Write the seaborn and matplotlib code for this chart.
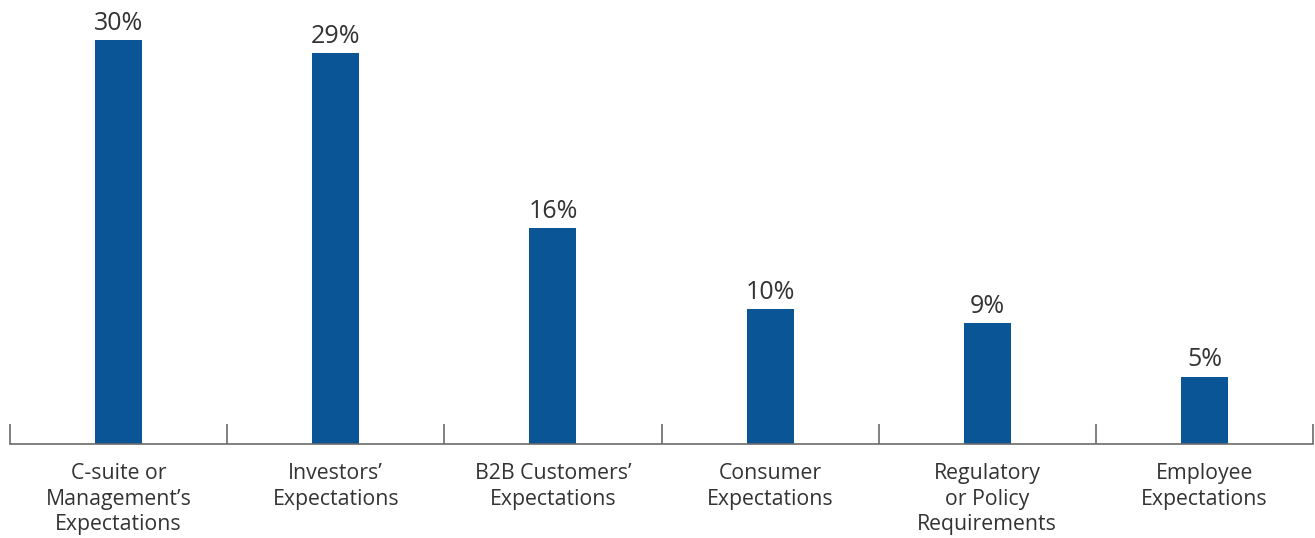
import matplotlib
matplotlib.use("Agg")
import matplotlib.pyplot as plt
import seaborn as sns
import pandas as pd

categories = [
    "C-suite or\nManagement's\nExpectations",
    "Investors'\nExpectations",
    "B2B Customers'\nExpectations",
    "Consumer\nExpectations",
    "Regulatory\nor Policy\nRequirements",
    "Employee\nExpectations",
]
categories = [c.replace("'", "\u2019") for c in categories]
values = [30, 29, 16, 10, 9, 5]

df = pd.DataFrame({"driver": categories, "share": values})

sns.set_theme(style="white")
plt.rcParams["font.family"] = ["Open Sans", "DejaVu Sans"]

fig = plt.figure(figsize=(13.15, 5.38), dpi=100)
ax = fig.add_axes([10 / 1315, 94 / 538, 1303 / 1315, 444 / 538])

sns.barplot(data=df, x="driver", y="share", color="#0a5596", width=0.216,
            saturation=1, linewidth=0, ax=ax)

for c in ax.containers:
    ax.bar_label(c, labels=[f"{v}%" for v in values], padding=3,
                 fontsize=18, color="#333333")

ax.set_ylim(0, 32.96)
ax.set_xlim(-0.5, len(values) - 0.5)
ax.set_xlabel("")
ax.set_ylabel("")
ax.set_yticks([])
for s in ["top", "right", "left"]:
    ax.spines[s].set_visible(False)
ax.spines["bottom"].set_color("#6b6b6b")
ax.spines["bottom"].set_linewidth(1.2)

ax.set_xticks(range(len(values)))
ax.set_xticklabels(categories, fontsize=15.3, color="#333333", linespacing=1.28)
ax.tick_params(axis="x", which="major", length=0, pad=14)
ax.set_xticks([i - 0.5 for i in range(len(values) + 1)], minor=True)
ax.tick_params(axis="x", which="minor", bottom=True, direction="in",
               length=14.4, width=1.2, color="#6b6b6b")

fig.savefig("out.png", dpi=100)
plt.close(fig)
